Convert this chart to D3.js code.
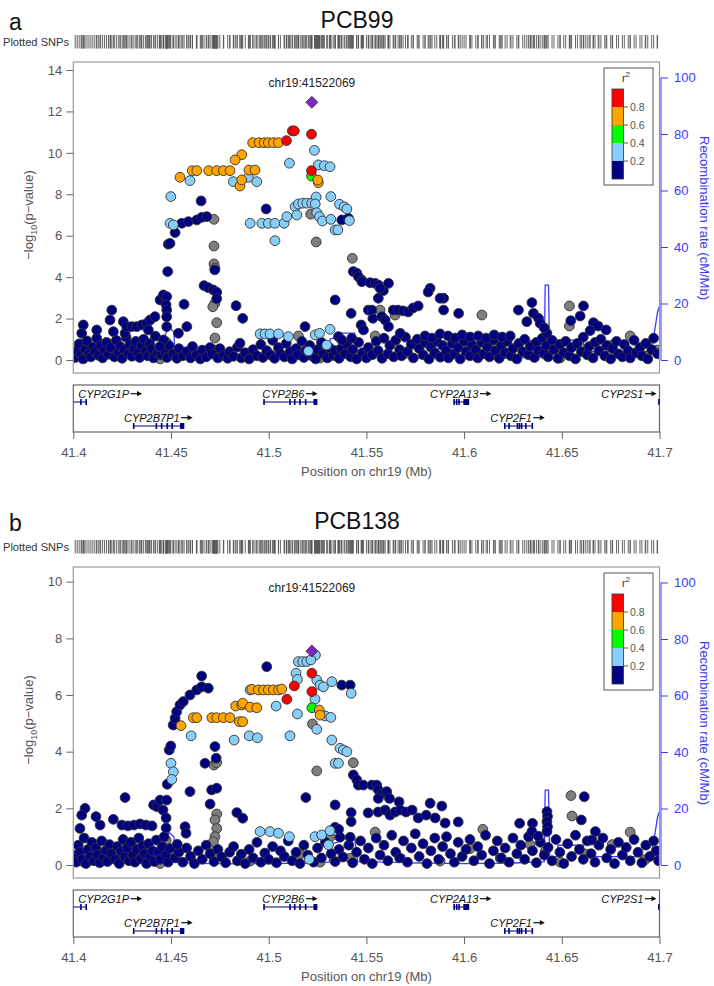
<!DOCTYPE html>
<html><head><meta charset="utf-8">
<script src="https://cdn.jsdelivr.net/npm/d3@7"></script>
<style>body{margin:0;background:#fff}</style>
</head><body>
<script>
// ---------------- data ----------------
const xTicks=[41.4,41.45,41.5,41.55,41.6,41.65,41.7];
const xTickLabels=["41.4","41.45","41.5","41.55","41.6","41.65","41.7"];
const yTicksA=[0,2,4,6,8,10,12,14];
const yTicksB=[0,2,4,6,8,10];
const recTicks=[0,20,40,60,80,100];
const legendBreaks=["0.8","0.6","0.4","0.2"];
const ldColors=["#000080","#87CEFA","#00FF00","#FFA500","#FF0000"];
const indexSnp="chr19:41522069";
const indexPos=41.5221;

const recPos=[41.400,41.410,41.420,41.430,41.440,41.4465,41.447,41.449,41.4515,41.452,41.465,41.480,41.500,41.520,41.531,41.5315,41.535,41.537,41.544,41.5455,41.560,41.5665,41.567,41.5695,41.570,41.600,41.625,41.641,41.6415,41.6432,41.6437,41.6478,41.648,41.661,41.6615,41.695,41.697,41.699,41.700];
const recRate=[0.8,0.5,0.9,0.6,0.8,1.0,9.0,11.5,10,1.0,0.6,0.4,0.5,0.7,1.0,7.5,8.0,9.5,9.5,1.2,1.0,0.9,3.5,3.5,0.8,0.5,0.7,1.2,26.5,26.5,3.0,3.0,7.0,7.0,3.0,3.0,8,17,19];

const geneNames=["CYP2G1P","CYP2B7P1","CYP2B6","CYP2A13","CYP2F1","CYP2S1"];
const geneStart=[41.3990,41.4307,41.4973,41.5945,41.6205,41.6993];
const geneEnd=[41.4066,41.4568,41.5249,41.6026,41.6347,41.7100];
const geneRow=[0,1,0,0,1,0];
const geneExons=[
 [[41.4035,41.4040],[41.4062,41.4067]],
 [[41.4305,41.4309],[41.4421,41.4425],[41.4448,41.4451],[41.4477,41.4480],[41.4502,41.4506],[41.4546,41.4568]],
 [[41.4972,41.4975],[41.5105,41.5108],[41.5129,41.5132],[41.5156,41.5159],[41.5185,41.5188],[41.5229,41.5249]],
 [[41.5945,41.5948],[41.5958,41.5961],[41.5970,41.5973],[41.5996,41.6026]],
 [[41.6204,41.6207],[41.6226,41.6229],[41.6269,41.6272],[41.6279,41.6282],[41.6290,41.6293],[41.6312,41.6315],[41.6345,41.6349]],
 [[41.6993,41.7010]]
];

// ---- PCB99 (panel a): [position Mb, -log10 p] by LD class ----
const purpleA=[[41.5221,12.44]];
const redA=[[41.5121,11.06],[41.5131,11.06],[41.5091,10.59],[41.5219,10.90],[41.5219,9.14]];
const greenA=[[41.5219,8.88]];
const orangeA=[[41.4918,10.49],[41.4951,10.49],[41.4977,10.49],[41.4998,10.49],[41.5024,10.49],[41.5050,10.49],[41.4862,9.91],[41.4828,9.66],[41.4609,9.14],[41.4632,9.14],[41.4693,9.14],[41.4734,9.14],[41.4768,9.14],[41.4802,9.14],[41.4899,9.17],[41.4930,9.17],[41.4546,8.82],[41.4853,8.40],[41.4862,8.69],[41.5254,8.56],[41.5251,8.69]];
const lblueA=[[41.4597,8.66],[41.4819,8.61],[41.4896,8.82],[41.4939,8.61],[41.5106,9.50],[41.5234,10.12],[41.5254,9.42],[41.5285,9.38],[41.5314,9.33],[41.4499,7.89],[41.4495,6.60],[41.4512,6.52],[41.4905,6.60],[41.4965,6.60],[41.4998,6.60],[41.5032,6.60],[41.5079,6.60],[41.5032,5.76],[41.5093,6.92],[41.5135,7.40],[41.5144,7.00],[41.5152,7.53],[41.5174,7.57],[41.5195,7.57],[41.5220,7.57],[41.5243,7.87],[41.5238,7.53],[41.5246,7.11],[41.5260,6.92],[41.5275,6.71],[41.5318,6.79],[41.5318,7.89],[41.5362,7.52],[41.5386,7.40],[41.5400,7.29],[41.5413,6.73],[41.5340,6.28],[41.5354,6.28],[41.4956,1.26],[41.4981,1.26],[41.5007,1.26],[41.5050,1.26],[41.5101,1.13],[41.5238,1.21],[41.5260,1.29],[41.5314,1.48],[41.5297,0.72],[41.5203,0.43]];
const navyA=[[41.4654,7.68],[41.4521,6.15],[41.4555,6.60],[41.4589,6.68],[41.4632,6.76],[41.4658,6.89],[41.4683,6.92],[41.4486,5.59],[41.4495,5.63],[41.4483,4.27],[41.4724,4.35],[41.4669,3.59],[41.4691,3.49],[41.4717,3.38],[41.4734,3.27],[41.4734,2.96],[41.4987,7.29],[41.5374,6.76],[41.5408,6.84],[41.5433,4.27],[41.5451,4.19],[41.5459,4.02],[41.5476,3.86],[41.5477,3.78],[41.5519,3.73],[41.5545,3.70],[41.5561,3.62],[41.5587,3.35],[41.5613,3.70],[41.5570,3.46],[41.5561,2.98],[41.5340,2.90],[41.5826,3.46],[41.5816,3.28],[41.5895,2.98],[41.5877,2.98],[41.5895,2.41],[41.5972,2.25],[41.5422,2.25],[41.5533,2.01],[41.5510,2.41],[41.5528,2.41],[41.5579,2.09],[41.5596,1.93],[41.5613,1.61],[41.5637,2.41],[41.5662,2.41],[41.5688,2.37],[41.5714,2.32],[41.5739,2.51],[41.5765,2.61],[41.5673,1.29],[41.6278,2.41],[41.6347,2.77],[41.6321,1.85],[41.6355,2.25],[41.6381,2.01],[41.6389,1.77],[41.6424,1.29],[41.6410,1.55],[41.6611,2.61],[41.6594,2.12],[41.6546,1.90],[41.6662,1.80],[41.6645,1.42],[41.6686,1.64],[41.6727,1.45],
[41.4051,1.69],[41.4043,1.29],[41.4120,1.45],[41.4188,1.93],[41.4197,2.41],[41.4205,1.37],[41.4256,1.85],[41.4265,1.29],[41.4273,1.61],[41.4299,1.61],[41.4325,1.61],[41.4350,1.69],[41.4376,1.77],[41.4393,1.93],[41.4384,1.45],[41.4418,2.09],[41.4444,2.90],[41.4461,3.14],[41.4478,3.06],[41.4475,2.66],[41.4478,2.41],[41.4478,2.09],[41.4478,1.61],[41.4461,0.97],[41.4444,0.64],[41.4567,2.69],[41.4581,1.61],[41.4538,1.29],[41.4833,2.62],[41.4867,2.01],[41.4853,0.81],[41.5186,1.61],[41.5357,1.13],[41.5374,0.97],[41.5425,1.05],[41.5473,1.69],[41.5485,1.45],
[41.5800,1.16],[41.5836,1.06],[41.5877,1.26],[41.5918,1.16],[41.5954,1.06],[41.5990,1.21],[41.6031,1.11],[41.6072,1.16],[41.6113,1.06],[41.6154,1.21],[41.6195,1.11],[41.6236,1.16]];
const baseA=[[41.401,0.12],[41.402,0.45],[41.403,0.78],[41.404,0.25],[41.405,0.05],[41.406,0.55],[41.407,0.92],[41.408,0.30],[41.409,0.15],[41.410,0.62],[41.411,0.40],[41.412,1.05],[41.413,0.22],[41.414,0.70],[41.415,0.10],[41.416,0.48],[41.417,0.85],[41.418,0.28],[41.419,0.60],[41.421,0.15],[41.422,0.95],[41.423,0.38],[41.424,0.65],[41.425,0.08],[41.426,0.50],[41.427,1.10],[41.428,0.30],[41.429,0.75],[41.430,0.18],[41.431,0.55],[41.432,0.90],[41.433,0.35],[41.434,0.12],[41.435,0.68],[41.436,1.00],[41.437,0.42],[41.438,0.20],[41.439,0.80],[41.440,0.55],[41.441,0.10],[41.442,1.15],[41.443,0.35],[41.444,0.62],[41.445,0.25],[41.446,0.90],[41.447,0.45],[41.448,0.12],[41.449,0.70],
[41.451,0.30],[41.453,0.08],[41.454,0.55],[41.456,0.20],[41.458,0.40],[41.460,0.10],[41.461,0.65],[41.463,0.25],[41.465,0.05],[41.466,0.48],[41.468,0.15],[41.470,0.60],[41.471,0.30],[41.474,0.10],[41.475,0.55],[41.477,0.22],[41.479,0.08],[41.480,0.40],[41.482,0.18],[41.484,0.62],[41.486,0.10],[41.488,0.35],[41.490,0.05],[41.492,0.50],[41.494,0.20],[41.496,0.75],[41.497,0.12],[41.499,0.45],[41.501,0.25],[41.502,0.95],[41.503,0.08],[41.505,0.60],[41.506,0.30],[41.508,0.15],[41.509,0.80],[41.511,0.40],[41.512,0.05],[41.514,0.55],[41.515,0.25],[41.517,0.90],[41.518,0.12],[41.519,0.45],[41.521,0.70],[41.522,0.20],[41.524,0.05],[41.525,0.50],[41.527,0.85],[41.528,0.30],[41.530,0.10],[41.531,0.60],[41.533,0.22],[41.534,0.45],[41.536,0.08],[41.537,0.55],[41.539,0.30],[41.540,0.75],[41.542,0.15],[41.543,0.50],[41.545,0.05],[41.546,0.85],[41.548,0.35],[41.550,0.10],[41.551,0.60],[41.553,0.25],[41.555,0.90],[41.556,0.45],[41.558,0.08],[41.559,1.05],[41.561,0.30],[41.562,0.70],[41.564,0.15],[41.565,0.95],[41.567,0.50],[41.568,0.20],[41.570,1.10],[41.571,0.40],[41.573,0.75],[41.574,0.10],[41.576,1.00],[41.577,0.55],[41.579,0.25],[41.580,0.85],[41.582,0.05],[41.583,0.62],[41.585,0.35],[41.586,0.90],[41.588,0.15],[41.589,0.70],[41.591,0.45],[41.592,0.10],[41.594,0.80],[41.595,0.30],[41.597,0.60],[41.598,0.05],[41.600,0.90],[41.601,0.40],[41.603,0.20],[41.604,0.75],[41.606,0.50],[41.607,0.10],[41.609,0.85],[41.610,0.30],[41.612,0.62],[41.613,0.15],[41.615,0.95],[41.616,0.45],[41.618,0.08],[41.619,0.70],[41.621,0.35],[41.622,0.90],[41.624,0.20],[41.625,0.55],[41.627,0.05],[41.628,0.80],[41.630,0.40],[41.631,1.00],[41.633,0.25],[41.634,0.65],[41.636,0.12],[41.637,0.85],[41.638,0.45],[41.640,1.05],[41.641,0.30],[41.642,0.70],[41.643,0.15],[41.645,0.95],[41.646,0.50],[41.648,0.08],[41.649,0.75],[41.651,0.35],[41.652,0.90],[41.654,0.20],[41.655,0.60],[41.657,0.05],[41.658,0.80],[41.660,0.40],[41.661,1.10],[41.663,0.25],[41.664,0.65],[41.666,0.10],[41.667,0.85],[41.669,0.45],[41.670,1.00],[41.672,0.20],[41.673,0.70],[41.675,0.05],[41.676,0.55],[41.678,0.90],[41.679,0.30],[41.681,0.15],[41.682,0.75],[41.684,0.45],[41.685,0.10],[41.687,0.95],[41.688,0.35],[41.690,0.60],[41.691,0.20],[41.693,0.80],[41.694,0.05],[41.696,0.50],[41.697,1.05],[41.699,0.30]];
const grayA=[[41.4720,6.79],[41.4720,5.50],[41.4720,4.64],[41.4725,4.44],[41.4725,2.74],[41.4714,2.57],[41.4734,1.80],[41.5215,7.04],[41.5243,5.70],[41.5428,4.91],[41.6091,2.17],[41.6539,2.61],[41.6539,1.64],[41.5152,1.16],[41.5570,2.41],[41.4055,0.10],[41.4137,0.39],[41.4239,0.19],[41.4342,0.72],[41.4444,0.05],[41.4475,0.87],[41.4725,0.48],[41.4725,1.06],[41.4905,0.14],[41.5161,0.39],[41.5263,0.10],[41.5417,0.24],[41.5545,1.16],[41.5647,2.17],[41.5877,0.14],[41.6031,0.58],[41.6185,0.24],[41.6338,0.72],[41.6415,0.48],[41.6492,0.10],[41.6620,0.39],[41.6758,0.72],[41.6850,1.16],[41.6927,0.19],[41.6988,0.48]];

// ---- PCB138 (panel b) ----
const purpleB=[[41.5221,7.55]];
const redB=[[41.5221,6.77],[41.5131,6.32],[41.5093,5.85],[41.5221,6.12]];
const greenB=[[41.5221,5.55]];
const orangeB=[[41.4914,6.20],[41.4947,6.18],[41.4973,6.18],[41.4998,6.18],[41.5024,6.18],[41.5050,6.18],[41.5067,6.21],[41.5259,5.47],[41.5263,5.29],[41.4831,5.61],[41.4862,5.65],[41.4867,5.71],[41.4905,5.57],[41.4939,5.55],[41.4614,5.20],[41.4632,5.20],[41.4709,5.20],[41.4734,5.20],[41.4768,5.20],[41.4802,5.20],[41.4850,5.06],[41.4867,5.06],[41.4551,4.92]];
const lblueB=[[41.5239,7.41],[41.5152,7.18],[41.5174,7.18],[41.5195,7.18],[41.5216,7.24],[41.5140,6.77],[41.5147,6.55],[41.5246,6.53],[41.5263,6.35],[41.5280,6.29],[41.5323,6.47],[41.5422,6.06],[41.4905,6.18],[41.5237,5.85],[41.5289,5.26],[41.5318,5.21],[41.5246,4.79],[41.5323,4.41],[41.5365,4.12],[41.5382,4.06],[41.5400,4.00],[41.5340,3.59],[41.5357,3.59],[41.5038,5.61],[41.5147,5.33],[41.5109,4.56],[41.4603,4.56],[41.4823,4.41],[41.4900,4.56],[41.4942,4.49],[41.4500,3.59],[41.4512,3.29],[41.4504,3.02],[41.4956,1.18],[41.5007,1.18],[41.5050,1.12],[41.5106,1.00],[41.5237,1.00],[41.5271,1.06],[41.5306,0.71],[41.5314,1.21],[41.5208,0.20]];
const navyB=[[41.4990,7.00],[41.5374,6.35],[41.5417,6.35],[41.4511,4.94],[41.4521,5.18],[41.4529,5.41],[41.4546,5.65],[41.4563,5.77],[41.4597,6.00],[41.4632,6.18],[41.4657,6.29],[41.4691,6.24],[41.4657,6.67],[41.4491,4.06],[41.4499,4.20],[41.4481,2.85],[41.4725,4.18],[41.4731,3.77],[41.4674,3.59],[41.4597,2.59],[41.4265,2.38],[41.4708,2.65],[41.4734,2.71],[41.4700,2.15],[41.4837,1.85],[41.4867,1.65],[41.5190,2.38],[41.5340,2.12],[41.4060,2.00],[41.4043,1.76],[41.4034,1.29],[41.4116,1.71],[41.4137,1.41],[41.4205,1.61],[41.4249,1.41],[41.4280,1.38],[41.4311,1.41],[41.4342,1.45],[41.4372,1.41],[41.4403,1.38],[41.4411,2.12],[41.4427,2.06],[41.4444,2.29],[41.4478,2.29],[41.4459,1.94],[41.4475,1.66],[41.4475,1.31],[41.4572,1.35],[41.4577,1.12],[41.4532,0.73],
[41.5433,3.18],[41.5451,3.00],[41.5459,2.82],[41.5485,2.82],[41.5528,2.82],[41.5553,2.82],[41.5561,2.65],[41.5579,2.53],[41.5604,2.59],[41.5618,2.35],[41.5561,2.35],[41.5667,2.23],[41.5826,2.18],[41.5886,2.08],[41.5422,1.85],[41.5422,1.53],[41.5509,1.84],[41.5560,1.87],[41.5596,1.94],[41.5621,1.76],[41.5647,1.87],[41.5673,1.94],[41.5703,1.87],[41.5734,1.94],[41.5765,1.66],[41.5806,1.76],[41.5852,1.66],[41.5903,1.48],[41.5970,1.52],[41.6615,2.41],[41.6600,1.59],[41.6672,1.18],[41.6654,0.88],[41.6284,1.47],[41.6350,1.47],[41.6424,1.88],[41.6427,1.71],[41.6424,1.53],[41.6427,1.35],[41.6424,1.18],[41.6347,1.18],[41.6379,1.02],[41.5365,0.98],[41.5417,0.98],[41.5340,1.33],[41.5358,1.26]];
const baseB=[[41.4005,0.35],[41.4015,0.10],[41.4025,0.70],[41.4035,0.45],[41.4045,0.20],[41.4055,0.95],[41.4065,0.05],[41.4075,0.55],[41.4085,0.30],[41.4095,0.80],[41.4105,0.15],[41.4115,0.60],[41.4125,0.38],[41.4135,0.08],[41.4145,0.85],[41.4155,0.25],[41.4165,0.50],[41.4175,0.12],[41.4185,0.72],[41.4195,0.40],[41.4215,0.20],[41.4225,0.65],[41.4235,0.05],[41.4245,0.48],[41.4255,0.90],[41.4265,0.28],[41.4275,0.60],[41.4285,0.15],[41.4295,0.80],[41.4305,0.35],[41.4315,0.10],[41.4325,0.55],[41.4335,0.95],[41.4345,0.22],[41.4355,0.68],[41.4365,0.40],[41.4375,0.05],[41.4385,0.75],[41.4395,0.30],[41.4405,0.50],[41.4415,0.12],[41.4425,0.88],[41.4435,0.45],[41.4445,0.20],[41.4455,0.65],[41.4465,1.00],[41.4475,0.35],[41.4485,0.10],[41.4495,0.58],
[41.452,0.25],[41.454,0.45],[41.456,0.10],[41.458,0.60],[41.460,0.30],[41.462,0.05],[41.464,0.50],[41.466,0.20],[41.468,0.70],[41.470,0.40],[41.472,0.12],[41.474,0.55],[41.476,0.28],[41.478,0.08],[41.480,0.45],[41.482,0.65],[41.484,0.15],[41.486,0.38],[41.488,0.05],[41.490,0.55],[41.492,0.25],[41.494,0.80],[41.496,0.10],[41.498,0.42],[41.500,0.20],[41.502,0.65],[41.504,0.08],[41.506,0.50],[41.508,0.30],[41.510,0.85],[41.512,0.15],[41.514,0.45],[41.516,0.05],[41.518,0.70],[41.520,0.35],[41.523,0.10],[41.525,0.60],[41.527,0.25],[41.529,0.80],[41.532,0.40],[41.534,0.12],[41.536,0.55],[41.538,0.28],[41.541,0.70],[41.543,0.08],[41.545,0.45],[41.547,0.85],[41.549,0.20],[41.551,0.60],[41.553,0.05],[41.555,0.95],[41.557,0.35],[41.559,0.70],[41.561,0.15],[41.563,1.05],[41.565,0.45],[41.567,0.25],[41.569,0.85],[41.571,0.10],[41.573,0.60],[41.575,1.10],[41.577,0.30],[41.579,0.75],[41.581,0.05],[41.583,0.50],[41.585,0.95],[41.587,0.20],[41.589,0.65],[41.591,1.00],[41.593,0.40],[41.595,0.10],[41.597,0.80],[41.599,0.30],[41.601,0.55],[41.603,0.90],[41.605,0.15],[41.607,0.65],[41.609,0.35],[41.611,1.05],[41.613,0.05],[41.615,0.50],[41.617,0.85],[41.619,0.25],[41.621,0.60],[41.623,0.10],[41.625,0.95],[41.627,0.40],[41.629,0.70],[41.631,0.20],[41.633,1.00],[41.635,0.50],[41.637,0.08],[41.639,0.80],[41.641,0.35],[41.643,0.62],[41.645,0.15],[41.647,0.90],[41.649,0.45],[41.651,0.05],[41.653,0.75],[41.655,0.30],[41.657,1.05],[41.659,0.55],[41.661,0.20],[41.663,0.85],[41.665,0.40],[41.667,0.10],[41.669,0.70],[41.671,0.95],[41.673,0.25],[41.675,0.55],[41.677,0.05],[41.679,0.80],[41.681,0.35],[41.683,0.62],[41.685,0.15],[41.687,0.90],[41.689,0.45],[41.691,0.08],[41.693,0.70],[41.695,0.30],[41.697,0.85],[41.6985,0.50],[41.6995,0.15]];
const grayB=[[41.5224,4.98],[41.5246,3.32],[41.5433,3.61],[41.4720,3.53],[41.4734,3.61],[41.4734,1.80],[41.4725,1.59],[41.4734,1.29],[41.4725,1.00],[41.4717,0.82],[41.6096,1.26],[41.6547,2.45],[41.6552,1.73],[41.5314,0.99],[41.4055,0.10],[41.4137,0.39],[41.4239,0.19],[41.4342,0.72],[41.4444,0.05],[41.4475,0.87],[41.4725,0.48],[41.4905,0.14],[41.5161,0.39],[41.5263,0.10],[41.5417,0.24],[41.5545,1.16],[41.5877,0.14],[41.6031,0.58],[41.6185,0.24],[41.6338,0.72],[41.6415,0.48],[41.6492,0.10],[41.6620,0.39],[41.6758,0.72],[41.6850,1.16],[41.6927,0.19],[41.6988,0.48]];

// ---------------- drawing ----------------
const W=714,H=986;
const FONT="'Liberation Sans', Arial, Helvetica, sans-serif";
const svg=d3.select("body").append("svg").attr("width",W).attr("height",H)
  .style("font-family",FONT);
const PL=73.3, PR=659.5, PT=62, PB=373;
const x=d3.scaleLinear().domain([41.4,41.7]).range([PL,PR]);
const RECBLUE="#3a3aff";

const allPos=[].concat(baseA,navyA,grayA,lblueA,orangeA,redA,greenA,purpleA).map(d=>d[0]);

const panels=[
 {letter:"a",title:"PCB99",oy:0,titleY:28,ymax:14,top:70,yTicks:yTicksA,
  groups:[[grayA,"#7F7F7F"],[baseA,ldColors[0]],[navyA,ldColors[0]],[lblueA,ldColors[1]],[greenA,ldColors[2]],[orangeA,ldColors[3]],[redA,ldColors[4]]],purple:purpleA},
 {letter:"b",title:"PCB138",oy:505,titleY:24,ymax:10,top:76.7,yTicks:yTicksB,
  groups:[[grayB,"#7F7F7F"],[baseB,ldColors[0]],[navyB,ldColors[0]],[lblueB,ldColors[1]],[greenB,ldColors[2]],[orangeB,ldColors[3]],[redB,ldColors[4]]],purple:purpleB}
];

panels.forEach((p,i)=>{
  const g=svg.append("g").attr("transform",`translate(0,${p.oy})`);
  const y=d3.scaleLinear().domain([0,p.ymax]).range([360,p.top]);
  const yr=d3.scaleLinear().domain([0,100]).range([360,77.5]);

  g.append("text").attr("x",9).attr("y",p.titleY+2).attr("font-size",23).attr("fill","#111").text(p.letter);
  g.append("text").attr("x",357).attr("y",p.titleY).attr("text-anchor","middle").attr("font-size",23).attr("fill","#111").text(p.title);

  // plotted SNPs
  g.append("text").attr("x",3).attr("y",45.5).attr("font-size",10.5).attr("fill","#333")
    .attr("textLength",66).attr("lengthAdjust","spacingAndGlyphs").text("Plotted SNPs");
  g.append("g").selectAll("line").data(allPos).join("line")
    .attr("x1",d=>x(d)).attr("x2",d=>x(d)).attr("y1",35).attr("y2",48.5)
    .attr("stroke","#555").attr("stroke-width",0.9);

  const cid="clip"+i;
  g.append("clipPath").attr("id",cid).append("rect").attr("x",PL).attr("y",PT).attr("width",PR-PL).attr("height",PB-PT);

  // recombination line
  const rec=recPos.map((d,k)=>[d,recRate[k]]);
  g.append("path").datum(rec).attr("clip-path",`url(#${cid})`)
    .attr("d",d3.line().x(d=>x(d[0])).y(d=>yr(d[1])))
    .attr("fill","none").attr("stroke",RECBLUE).attr("stroke-width",1.3);

  // points
  const pg=g.append("g").attr("clip-path",`url(#${cid})`);
  p.groups.forEach(([arr,col])=>{
    pg.append("g").selectAll("circle").data(arr).join("circle")
      .attr("cx",d=>x(d[0])).attr("cy",d=>y(d[1])).attr("r",4.9)
      .attr("fill",col).attr("stroke","#333").attr("stroke-width",0.9);
  });
  pg.append("g").selectAll("path").data(p.purple).join("path")
    .attr("transform",d=>`translate(${x(d[0])},${y(d[1])})`)
    .attr("d","M0,-6L6,0L0,6L-6,0Z").attr("fill","#7D26CD").attr("stroke","#5a2a2a").attr("stroke-width",0.9);

  g.append("text").attr("x",x(indexPos)).attr("y",87).attr("text-anchor","middle")
    .attr("font-size",12).attr("fill","#222").text(indexSnp);

  g.append("rect").attr("x",PL).attr("y",PT).attr("width",PR-PL).attr("height",PB-PT)
    .attr("fill","none").attr("stroke","#999").attr("stroke-width",1.2);

  // left axis
  const la=g.append("g").attr("transform",`translate(${PL},0)`)
    .call(d3.axisLeft(y).tickValues(p.yTicks).tickSize(7).tickPadding(4).tickFormat(d3.format("d")));
  la.select(".domain").remove();
  la.selectAll("line").attr("stroke","#666");
  la.selectAll("text").attr("font-size",13).attr("fill","#555").attr("font-family",FONT);

  const yl=g.append("text").attr("transform",`translate(33,215) rotate(-90)`).attr("text-anchor","middle")
    .attr("font-size",13).attr("fill","#555");
  yl.append("tspan").text("\u2212log");
  yl.append("tspan").attr("font-size",9).attr("dy",4).text("10");
  yl.append("tspan").attr("dy",-4).text("(p\u2212value)");

  // right axis
  const ra=g.append("g").attr("transform",`translate(${PR+1.5},0)`)
    .call(d3.axisRight(yr).tickValues(recTicks).tickSize(7).tickPadding(6));
  ra.select(".domain").attr("stroke",RECBLUE).attr("d",`M0,${yr(0)}V${yr(100)}`);
  ra.selectAll("line").attr("stroke",RECBLUE);
  ra.selectAll("text").attr("font-size",13).attr("fill",RECBLUE).attr("font-family",FONT);
  g.append("text").attr("transform",`translate(700,218) rotate(90)`).attr("text-anchor","middle")
    .attr("font-size",13).attr("fill",RECBLUE).text("Recombination rate (cM/Mb)");

  // legend
  const lg=g.append("g");
  lg.append("rect").attr("x",604).attr("y",68).attr("width",49).attr("height",117)
    .attr("fill","#fff").attr("stroke","#555").attr("stroke-width",1);
  const lt=lg.append("text").attr("x",626).attr("y",82).attr("text-anchor","middle").attr("font-size",11).attr("fill","#333");
  lt.append("tspan").text("r");
  lt.append("tspan").attr("font-size",8).attr("dy",-5).text("2");
  const legendCols=ldColors.slice().reverse();
  lg.selectAll("rect.b").data(legendCols).join("rect").attr("class","b")
    .attr("x",612).attr("y",(d,k)=>89+k*18).attr("width",11.5).attr("height",18)
    .attr("fill",d=>d).attr("stroke","none");
  lg.append("rect").attr("x",612).attr("y",89).attr("width",11.5).attr("height",90)
    .attr("fill","none").attr("stroke","#333").attr("stroke-width",0.8);
  legendBreaks.forEach((t,k)=>{
    const yy=107+k*18;
    lg.append("line").attr("x1",623.5).attr("x2",628).attr("y1",yy).attr("y2",yy).attr("stroke","#555");
    lg.append("text").attr("x",630).attr("y",yy+3.8).attr("font-size",10.5).attr("fill","#555").text(t);
  });

  // gene track
  const gt=g.append("g");
  const GT=385, GB=432;
  const gclip="gclip"+i;
  g.append("clipPath").attr("id",gclip).append("rect").attr("x",PL).attr("y",GT).attr("width",PR-PL).attr("height",GB-GT);
  gt.append("rect").attr("x",PL).attr("y",GT).attr("width",PR-PL).attr("height",GB-GT)
    .attr("fill","none").attr("stroke","#666").attr("stroke-width",1.2);
  const rowY=[402,426];
  geneNames.forEach((nm,k)=>{
    const yy=rowY[geneRow[k]];
    const gg=gt.append("g").attr("clip-path",`url(#${gclip})`);
    gg.append("line").attr("x1",x(geneStart[k])).attr("x2",x(geneEnd[k])).attr("y1",yy).attr("y2",yy)
      .attr("stroke","#000080").attr("stroke-width",1.2);
    geneExons[k].forEach(ex=>{
      gg.append("rect").attr("x",x(ex[0])).attr("y",yy-3).attr("width",Math.max(1.6,x(ex[1])-x(ex[0]))).attr("height",6)
        .attr("fill","#000080");
    });
    const t=gt.append("text").attr("y",yy-4.5).attr("font-size",11).attr("font-style","italic").attr("fill","#111")
      .text(nm);
    const w=t.node().getComputedTextLength();
    const tw=w+14;
    let lx=(x(Math.max(geneStart[k],41.4))+x(Math.min(geneEnd[k],41.7)))/2 - tw/2;
    lx=Math.max(PL+5,Math.min(PR-2-tw,lx));
    t.attr("x",lx);
    const ay=yy-8.3, ax0=lx+w+1.5, ax1=lx+w+13;
    gt.append("line").attr("x1",ax0).attr("x2",ax1-4).attr("y1",ay).attr("y2",ay).attr("stroke","#111").attr("stroke-width",1.2);
    gt.append("path").attr("d",`M${ax1},${ay}L${ax1-5},${ay-2.6}L${ax1-5},${ay+2.6}Z`).attr("fill","#111");
  });

  // x axis
  const xa=g.append("g").attr("transform",`translate(0,${GB})`)
    .call(d3.axisBottom(x).tickValues(xTicks).tickSize(7).tickPadding(9).tickFormat((d,k)=>xTickLabels[k]));
  xa.select(".domain").remove();
  xa.selectAll("line").attr("stroke","#666");
  xa.selectAll("text").attr("font-size",13).attr("fill","#555").attr("font-family",FONT);
  g.append("text").attr("x",366.5).attr("y",476).attr("text-anchor","middle").attr("font-size",13)
    .attr("fill","#555").text("Position on chr19 (Mb)");
});
</script>
</body></html>
